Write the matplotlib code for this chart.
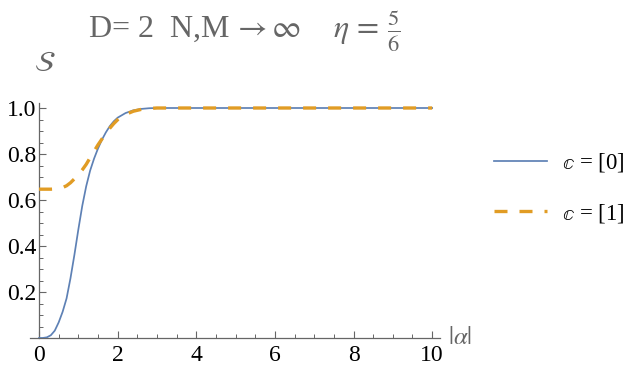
"""
Entropy S versus |alpha| for two sectors, D=2, N,M -> infinity, eta = 5/6
"""
import matplotlib
matplotlib.use('Agg')
import matplotlib.pyplot as plt
from matplotlib.ticker import MultipleLocator

plt.rcParams['font.family'] = ['Liberation Serif', 'DejaVu Serif']
plt.rcParams['mathtext.fontset'] = 'stix'

# curve values
alpha = [0, 0.1, 0.2, 0.3, 0.4, 0.5, 0.6, 0.7, 0.8, 0.9, 1.0, 1.1, 1.2, 1.3, 1.4,
         1.5, 1.6, 1.7, 1.8, 1.9, 2.0, 2.2, 2.4, 2.6, 2.8, 3.0, 3.5, 4, 5, 6, 7, 8, 9, 10]
S_c0 = [0, 0.0003, 0.003, 0.012, 0.032, 0.068, 0.114, 0.172, 0.26, 0.362, 0.472,
        0.575, 0.66, 0.728, 0.78, 0.824, 0.862, 0.894, 0.921, 0.942, 0.958, 0.978,
        0.99, 0.996, 0.999, 1.0, 1.0, 1.0, 1.0, 1.0, 1.0, 1.0, 1.0, 1.0]
S_c1 = [0.647, 0.647, 0.647, 0.647, 0.648, 0.650, 0.654, 0.662, 0.675, 0.692, 0.71,
        0.731, 0.755, 0.784, 0.812, 0.84, 0.865, 0.889, 0.912, 0.932, 0.949, 0.972,
        0.986, 0.994, 0.998, 1.0, 1.0, 1.0, 1.0, 1.0, 1.0, 1.0, 1.0, 1.0]

labels = [r'$\mathbb{c}$ = [0]', r'$\mathbb{c}$ = [1]']
title = r'D= 2  N,M$\,\rightarrow\infty$    $\eta\,=\,\frac{5}{6}$'

blue = '#5E81B5'
orange = '#E19C24'
gray = '#666666'

fig = plt.figure(figsize=(6.44, 3.75), dpi=100)
W, H = 644, 375
ax = fig.add_axes([30 / W, 37 / H, 410 / W, 234.6 / H])

l0, = ax.plot(alpha, S_c0, color=blue, lw=1.25, label=labels[0], zorder=3)
l1, = ax.plot(alpha, S_c1, color=orange, lw=2.4, label=labels[1], zorder=4)
l1.set_dashes((3.9, 3.6))

ax.set_xlim(-0.23, 10.2)
ax.set_ylim(0, 1.02)

for side in ['top', 'right']:
    ax.spines[side].set_visible(False)
ax.spines['left'].set_position(('data', 0))
ax.spines['bottom'].set_position(('data', 0))
for side in ['left', 'bottom']:
    ax.spines[side].set_color(gray)
    ax.spines[side].set_linewidth(0.9)

ax.set_xticks([0, 2, 4, 6, 8, 10])
ax.set_yticks([0.2, 0.4, 0.6, 0.8, 1.0])
ax.set_yticklabels(['0.2', '0.4', '0.6', '0.8', '1.0'])
ax.xaxis.set_minor_locator(MultipleLocator(0.5))
ax.yaxis.set_minor_locator(MultipleLocator(0.05))
ax.tick_params(which='both', direction='in', color=gray, labelsize=17, labelcolor='black')
ax.tick_params(which='major', length=5, width=0.8)
ax.tick_params(which='minor', length=3, width=0.7)
ax.tick_params(axis='x', pad=5)
ax.tick_params(axis='y', pad=2)

fig.text(244 / W, 1 - 31 / H, title, ha='center', va='center', fontsize=23, color=gray)
fig.text(45 / W, 1 - 64 / H, r'$\mathcal{S}$', ha='center', va='center', fontsize=21, color=gray)
fig.text(448 / W, 1 - 338 / H, r'$|\alpha|$', ha='left', va='center', fontsize=18, color=gray)

fig.legend(handles=[l0, l1], loc='center left', bbox_to_anchor=(483 / W, 1 - 188 / H),
           frameon=False, fontsize=16.5, handlelength=2.3, handletextpad=0.66,
           labelspacing=1.2, borderpad=0)

fig.savefig('out.png', dpi=100)
